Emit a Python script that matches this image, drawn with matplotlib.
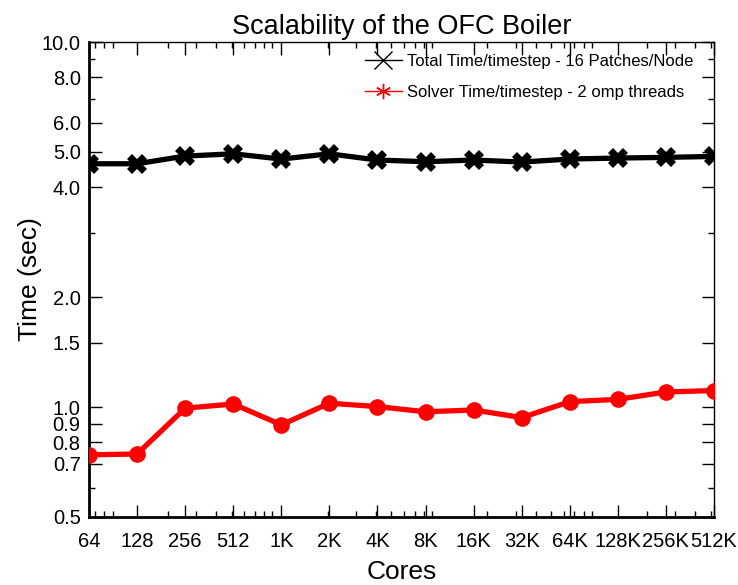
import numpy as np
import matplotlib.pyplot as plt
from matplotlib.ticker import FixedLocator, NullFormatter, LogLocator

plt.rcParams["font.family"] = ["Liberation Sans", "DejaVu Sans"]

cores = [64, 128, 256, 512, 1024, 2048, 4096, 8192, 16384, 32768,
         65536, 131072, 262144, 524288]
core_labels = ["64", "128", "256", "512", "1K", "2K", "4K", "8K", "16K",
               "32K", "64K", "128K", "256K", "512K"]
total_time = [4.64, 4.64, 4.87, 4.94, 4.78, 4.94, 4.75, 4.70, 4.75, 4.69,
              4.78, 4.81, 4.83, 4.86]
solver_time = [0.74, 0.744, 0.993, 1.02, 0.894, 1.025, 1.003, 0.971, 0.982,
               0.936, 1.035, 1.05, 1.10, 1.11]
y_ticks = [0.5, 0.7, 0.8, 0.9, 1.0, 1.5, 2.0, 4.0, 5.0, 6.0, 8.0, 10.0]
y_minor = [0.6, 3.0, 7.0, 9.0]

fig = plt.figure(figsize=(7.38, 5.85), dpi=100)
ax = fig.add_axes([89 / 738, 68 / 585, 625 / 738, 475 / 585])

ax.plot(cores, total_time, color="black", lw=3.8, marker="X",
        markersize=15, markeredgewidth=0, zorder=3)
ax.plot(cores, solver_time, color="red", lw=3.8, marker="o",
        markersize=12, markeredgewidth=0, zorder=3)

# legend proxies: thin lines with thin markers, like the original
ax.plot([], [], color="black", lw=1, marker="x", markersize=13,
        markeredgewidth=1, label="Total Time/timestep - 16 Patches/Node")
ax.plot([], [], color="red", lw=1, marker=(6, 2, 0), markersize=11,
        markeredgewidth=1, label="Solver Time/timestep - 2 omp threads")

ax.set_xscale("log")
ax.set_yscale("log")
ax.set_xlim(cores[0], cores[-1])
ax.set_ylim(0.5, 10.0)

ax.xaxis.set_major_locator(FixedLocator(cores))
ax.set_xticklabels(core_labels)
ax.xaxis.set_minor_locator(LogLocator(base=10, subs=np.arange(2, 10)))
ax.xaxis.set_minor_formatter(NullFormatter())
ax.yaxis.set_major_locator(FixedLocator(y_ticks))
ax.set_yticklabels([f"{v:.1f}" for v in y_ticks])
ax.yaxis.set_minor_locator(FixedLocator(y_minor))
ax.yaxis.set_minor_formatter(NullFormatter())

ax.tick_params(which="both", direction="in", top=True, right=True,
               labelsize=14.5)
ax.tick_params(axis="x", pad=10.5)
ax.tick_params(axis="y", pad=6)
ax.tick_params(which="major", length=9, width=1)
ax.tick_params(which="minor", length=4, width=1)
for side in ["left", "bottom"]:
    ax.spines[side].set_linewidth(2)
for side in ["top", "right"]:
    ax.spines[side].set_linewidth(1)

ax.set_title("Scalability of the OFC Boiler", fontsize=19.5, pad=6)
ax.set_xlabel("Cores", fontsize=19, labelpad=7)
ax.set_ylabel("Time (sec)", fontsize=19, labelpad=0)
ax.legend(loc="upper right", frameon=False, fontsize=12, handlelength=2.2,
          handletextpad=0.3, labelspacing=0.95, borderaxespad=0.3,
          bbox_to_anchor=(0.985, 1.0))

fig.savefig("out.png", dpi=100)
